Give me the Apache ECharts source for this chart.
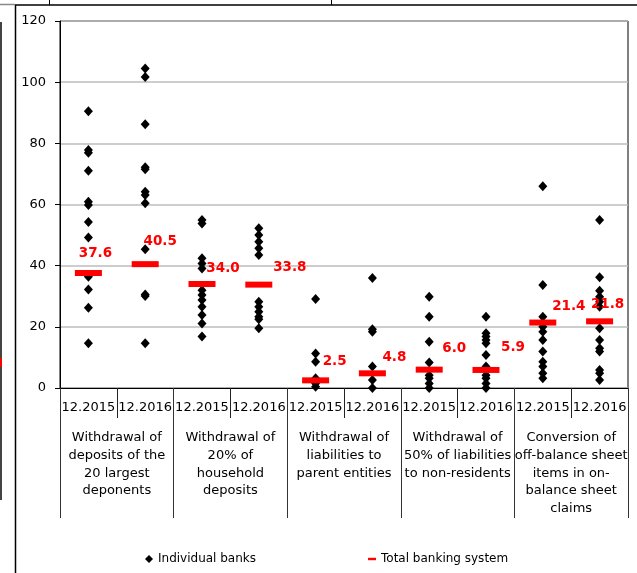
<!DOCTYPE html>
<html>
<head>
<meta charset="utf-8">
<script src="https://cdn.jsdelivr.net/npm/echarts@6/dist/echarts.min.js"></script>
<style>html,body{margin:0;padding:0;background:#fff}#c{width:637px;height:573px}</style>
</head>
<body>
<div id="c"></div>
<script>
// ---- data ----
var periods = ['12.2015','12.2016','12.2015','12.2016','12.2015','12.2016','12.2015','12.2016','12.2015','12.2016'];
var groups = [
  'Withdrawal of\ndeposits of the\n20 largest\ndeponents',
  'Withdrawal of\n20% of\nhousehold\ndeposits',
  'Withdrawal of\nliabilities to\nparent entities',
  'Withdrawal of\n50% of liabilities\nto non-residents',
  'Conversion of\noff-balance sheet\nitems in on-\nbalance sheet\nclaims'
];
var deposits20_2015 = [90.5, 77.8, 76.9, 71.0, 60.9, 59.8, 54.3, 49.2, 36.4, 32.2, 26.2, 14.6];
var deposits20_2016 = [104.5, 101.7, 86.2, 72.2, 71.5, 64.2, 63.1, 60.4, 45.4, 30.6, 30.1, 14.6];
var household_2015 = [54.9, 53.8, 42.4, 40.7, 39.1, 32.0, 30.4, 28.8, 26.6, 23.9, 21.1, 16.8];
var household_2016 = [52.2, 50.0, 47.8, 45.7, 43.5, 28.2, 26.6, 24.9, 23.3, 22.5, 19.5];
var parent_2015 = [29.1, 11.3, 8.6, 3.2, 1.5, 0.4];
var parent_2016 = [36.0, 19.2, 18.4, 7.0, 2.6, 0.0];
var nonres_2015 = [29.8, 23.3, 15.1, 8.3, 4.2, 3.2, 1.5, 0.0];
var nonres_2016 = [23.3, 17.9, 16.8, 15.7, 14.6, 10.8, 7.0, 4.2, 3.2, 1.5, 0.0];
var offbal_2015 = [66.0, 33.7, 23.3, 20.0, 18.4, 15.7, 11.9, 8.6, 7.0, 4.8, 3.2];
var offbal_2016 = [54.9, 36.2, 31.8, 29.8, 28.2, 26.6, 19.5, 15.7, 13.0, 11.9, 5.9, 4.8, 2.6];
var totals = [37.6, 40.5, 34.0, 33.8, 2.5, 4.8, 6.0, 5.9, 21.4, 21.8];
var yTicks = { min: 0, max: 120, interval: 20 };

// ---- styling (label placement relative to total marker) ----
var labelOffsets = [[7,-20],[15,-23],[21,-16],[31,-17],[19,-19],[22,-16],[25,-21],[27,-22],[26,-16],[8,-17]];

var bankCols = [deposits20_2015, deposits20_2016, household_2015, household_2016, parent_2015, parent_2016, nonres_2015, nonres_2016, offbal_2015, offbal_2016];
var bankData = [];
bankCols.forEach(function (col, i) { col.forEach(function (v) { bankData.push([i, v]); }); });
var totalData = totals.map(function (v, i) {
  return { value: [i, v], label: { offset: labelOffsets[i] } };
});

var FONT = 'DejaVu Sans';
var chart = echarts.init(document.getElementById('c'), null, { renderer: 'canvas' });
chart.setOption({
  animation: false,
  backgroundColor: '#fff',
  textStyle: { fontFamily: FONT },
  grid: { left: 60, right: 9, top: 21, bottom: 185, show: true, borderColor: '#000', borderWidth: 1, backgroundColor: 'transparent' },
  xAxis: [
    {
      type: 'category', data: periods, position: 'bottom', boundaryGap: true,
      axisLine: { lineStyle: { color: '#000', width: 1 } },
      axisTick: { show: true, length: 30, lineStyle: { color: '#222' } },
      axisLabel: { interval: 0, margin: 12, fontSize: 13, color: '#000', fontFamily: FONT, lineHeight: 15 }
    },
    {
      type: 'category', data: groups, position: 'bottom', boundaryGap: true,
      axisLine: { show: false },
      axisTick: { show: true, length: 130, lineStyle: { color: '#333' } },
      axisLabel: { interval: 0, margin: 41, fontSize: 13, color: '#000', fontFamily: FONT, lineHeight: 17.7, align: 'center' }
    }
  ],
  yAxis: {
    type: 'value', min: yTicks.min, max: yTicks.max, interval: yTicks.interval,
    axisLine: { show: true, lineStyle: { color: '#000' } },
    axisTick: { show: true, length: 5, lineStyle: { color: '#000' } },
    axisLabel: { margin: 14, fontSize: 13, color: '#000', fontFamily: FONT },
    splitLine: { show: true, lineStyle: { color: '#bdbdbd', width: 1.5 } }
  },
  legend: {
    left: 140, top: 548, itemGap: 112, itemWidth: 8, itemHeight: 8,
    textStyle: { fontSize: 12, color: '#000', fontFamily: FONT },
    data: [
      { name: 'Individual banks', icon: 'diamond' },
      { name: 'Total banking system', icon: 'path://M0,0H10V3H0Z' }
    ]
  },
  series: [
    {
      name: 'Individual banks', type: 'scatter', xAxisIndex: 0,
      symbol: 'diamond', symbolSize: [9, 10],
      itemStyle: { color: '#000', opacity: 1 },
      data: bankData, z: 3
    },
    {
      name: 'Total banking system', type: 'scatter', xAxisIndex: 0,
      symbol: 'rect', symbolSize: [27, 6],
      itemStyle: { color: '#ff0000', opacity: 1 },
      label: {
        show: true, position: 'inside', color: '#ff0000', fontWeight: 'bold', fontSize: 13.5, fontFamily: FONT,
        formatter: function (p) { return p.value[1].toFixed(1); }
      },
      data: totalData, z: 5
    }
  ],
  graphic: [
    { type: 'line', shape: { x1: 15.5, y1: 5, x2: 15.5, y2: 573 }, style: { stroke: '#000', lineWidth: 1.5 }, silent: true },
    { type: 'line', shape: { x1: 15, y1: 5, x2: 637, y2: 5 }, style: { stroke: '#000', lineWidth: 1.5 }, silent: true },
    { type: 'line', shape: { x1: 0, y1: 4.5, x2: 15, y2: 4.5 }, style: { stroke: '#888', lineWidth: 1.5 }, silent: true },
    { type: 'line', shape: { x1: 1, y1: 22, x2: 1, y2: 500 }, style: { stroke: '#444', lineWidth: 2 }, silent: true },
    { type: 'line', shape: { x1: 49.5, y1: 0, x2: 49.5, y2: 5 }, style: { stroke: '#000', lineWidth: 1 }, silent: true },
    { type: 'line', shape: { x1: 331.5, y1: 0, x2: 331.5, y2: 5 }, style: { stroke: '#000', lineWidth: 1 }, silent: true },
    { type: 'rect', shape: { x: 0, y: 358, width: 2, height: 9 }, style: { fill: '#ff0000' }, silent: true }
  ]
});
</script>
</body>
</html>
